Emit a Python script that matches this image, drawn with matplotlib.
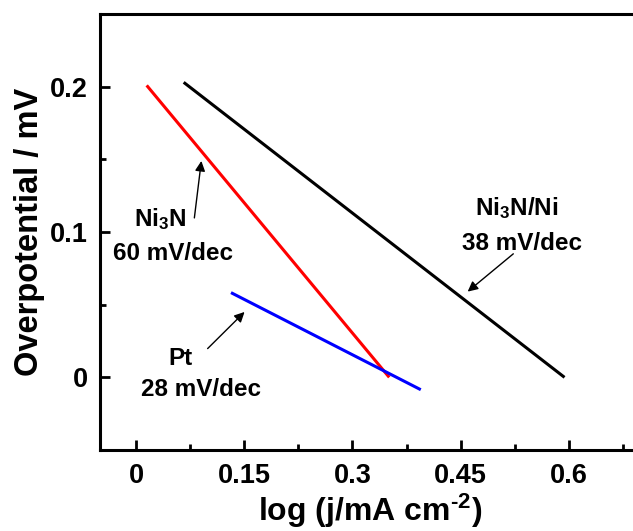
import matplotlib
matplotlib.use("Agg")
import matplotlib.pyplot as plt
from matplotlib.ticker import MultipleLocator

plt.rcParams['font.family'] = ['Liberation Sans', 'DejaVu Sans']
plt.rcParams['font.weight'] = 'bold'
plt.rcParams['mathtext.fontset'] = 'custom'
plt.rcParams['mathtext.rm'] = 'Liberation Sans:bold'
plt.rcParams['mathtext.bf'] = 'Liberation Sans:bold'
plt.rcParams['mathtext.default'] = 'bf'

# Tafel fit lines: (log j, overpotential) end points
ni3n_ni_x = [0.066, 0.594]
ni3n_ni_y = [0.203, 0.000]
ni3n_x = [0.0147, 0.351]
ni3n_y = [0.2009, 0.000]
pt_x = [0.1316, 0.3947]
pt_y = [0.0583, -0.0085]

x_ticks = [0, 0.15, 0.3, 0.45, 0.6]
x_tick_labels = ['0', '0.15', '0.3', '0.45', '0.6']
y_ticks = [0, 0.1, 0.2]
y_tick_labels = ['0', '0.1', '0.2']

fig = plt.figure(figsize=(6.33, 5.31), dpi=100)
ax = fig.add_axes([0.158, 0.1525, 0.8546, 0.8211])

ax.plot(ni3n_ni_x, ni3n_ni_y, color='black', lw=2.2, solid_capstyle='butt')
ax.plot(ni3n_x, ni3n_y, color='#ff0000', lw=2.2, solid_capstyle='butt')
ax.plot(pt_x, pt_y, color='#0000ff', lw=2.2, solid_capstyle='butt')

ax.set_xlim(-0.05, 0.7)
ax.set_ylim(-0.05, 0.25)
ax.set_xticks(x_ticks)
ax.set_xticklabels(x_tick_labels)
ax.set_yticks(y_ticks)
ax.set_yticklabels(y_tick_labels)
ax.xaxis.set_minor_locator(MultipleLocator(0.075))
ax.yaxis.set_minor_locator(MultipleLocator(0.05))

for s in ax.spines.values():
    s.set_linewidth(2.2)
ax.tick_params(which='both', direction='in', top=False, right=False, width=2.0)
ax.tick_params(which='major', length=7, labelsize=19.5, pad=9)
ax.tick_params(which='minor', length=4)

ax.set_ylabel('Overpotential / mV', fontsize=23.5, fontweight='bold', labelpad=3)
ax.set_xlabel(r'log (j/mA cm$^{\text{-2}}$)', fontsize=23, fontweight='bold', labelpad=2)

arrow = dict(arrowstyle='-|>', color='black', lw=1.0, mutation_scale=15,
             shrinkA=0, shrinkB=0)
ann_fs = 17.5

ax.annotate('', xy=(0.0905, 0.1489), xytext=(0.0808, 0.1097), arrowprops=arrow)
ax.text(0.0336, 0.1087, r'Ni$_\mathbf{3}$N', fontsize=ann_fs, ha='center', va='center')
ax.text(0.0510, 0.0853, '60 mV/dec', fontsize=ann_fs, ha='center', va='center')

ax.annotate('', xy=(0.1504, 0.0450), xytext=(0.0992, 0.0198), arrowprops=arrow)
ax.text(0.0620, 0.0130, 'Pt', fontsize=ann_fs, ha='center', va='center')
ax.text(0.0900, -0.0085, '28 mV/dec', fontsize=ann_fs, ha='center', va='center')

ax.annotate('', xy=(0.4597, 0.0590), xytext=(0.5230, 0.0850), arrowprops=arrow)
ax.text(0.5280, 0.1168, r'Ni$_\mathbf{3}$N/Ni', fontsize=ann_fs, ha='center', va='center')
ax.text(0.5350, 0.0918, '38 mV/dec', fontsize=ann_fs, ha='center', va='center')

fig.savefig('out.png', dpi=100)
